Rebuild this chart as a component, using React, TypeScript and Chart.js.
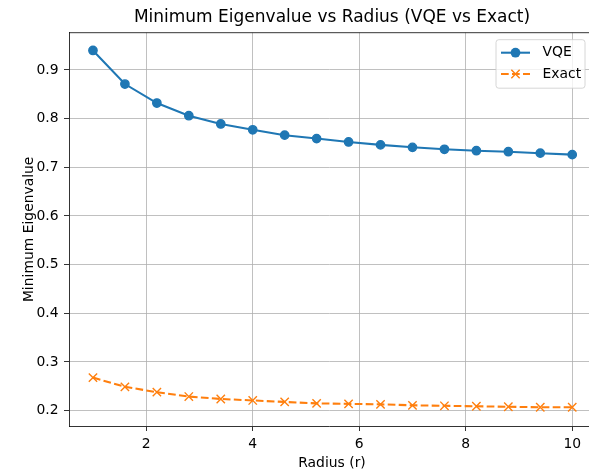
import React, { useEffect, useRef } from 'react';
import { Chart, registerables } from 'chart.js';

Chart.register(...registerables);

const radius = [1.0, 1.6, 2.2, 2.8, 3.4, 4.0, 4.6, 5.2, 5.8, 6.4, 7.0, 7.6, 8.2, 8.8, 9.4, 10.0];
const vqeValues = [0.940, 0.871, 0.832, 0.806, 0.789, 0.777, 0.766, 0.759, 0.752, 0.746, 0.741, 0.737, 0.734, 0.732, 0.729, 0.726];
const exactValues = [0.268, 0.249, 0.238, 0.229, 0.224, 0.221, 0.218, 0.215, 0.214, 0.213, 0.211, 0.210, 0.209, 0.208, 0.207, 0.207];
const xTicks = [2, 4, 6, 8, 10];
const yTicks = [0.2, 0.3, 0.4, 0.5, 0.6, 0.7, 0.8, 0.9];
const titleText = 'Minimum Eigenvalue vs Radius (VQE vs Exact)';
const xLabel = 'Radius (r)';
const yLabel = 'Minimum Eigenvalue';

const FONT = 'DejaVu Sans';
const FS = 13.9;
const BLUE = '#1f77b4';
const ORANGE = '#ff7f0e';

const framePlugin = {
  id: 'mplFrame',
  afterDraw(chart: any) {
    const { ctx, chartArea } = chart;
    ctx.save();
    ctx.strokeStyle = '#000';
    ctx.lineWidth = 0.8;
    ctx.beginPath();
    ctx.moveTo(chartArea.left, chartArea.top);
    ctx.lineTo(chartArea.right, chartArea.top);
    ctx.stroke();

    // title
    ctx.fillStyle = '#000';
    ctx.font = `17px "${FONT}"`;
    ctx.textAlign = 'center';
    ctx.textBaseline = 'alphabetic';
    ctx.fillText(titleText, 332, 21.7);

    // x axis label
    ctx.font = `${FS}px "${FONT}"`;
    ctx.textAlign = 'center';
    ctx.textBaseline = 'middle';
    ctx.fillText(xLabel, 332, 463);

    // legend
    const boxLeft = 496;
    const boxRight = 585;
    const boxTop = chartArea.top + 7;
    const boxBottom = boxTop + 48.5;
    const r = 2.8;
    ctx.beginPath();
    ctx.moveTo(boxLeft + r, boxTop);
    ctx.lineTo(boxRight - r, boxTop);
    ctx.arcTo(boxRight, boxTop, boxRight, boxTop + r, r);
    ctx.lineTo(boxRight, boxBottom - r);
    ctx.arcTo(boxRight, boxBottom, boxRight - r, boxBottom, r);
    ctx.lineTo(boxLeft + r, boxBottom);
    ctx.arcTo(boxLeft, boxBottom, boxLeft, boxBottom - r, r);
    ctx.lineTo(boxLeft, boxTop + r);
    ctx.arcTo(boxLeft, boxTop, boxLeft + r, boxTop, r);
    ctx.closePath();
    ctx.fillStyle = 'rgba(255,255,255,0.8)';
    ctx.fill();
    ctx.strokeStyle = '#cccccc';
    ctx.lineWidth = 0.8;
    ctx.stroke();

    const hx0 = boxLeft + 5;
    const hx1 = hx0 + 29;
    const hmid = (hx0 + hx1) / 2;
    const textX = 542.5;
    const rows = [52.7, 74];
    chart.data.datasets.forEach((ds: any, i: number) => {
      const y = rows[i];
      ctx.save();
      ctx.strokeStyle = ds.borderColor;
      ctx.lineWidth = ds.borderWidth;
      ctx.setLineDash(ds.borderDash || []);
      ctx.beginPath();
      ctx.moveTo(hx0, y);
      ctx.lineTo(hx1, y);
      ctx.stroke();
      ctx.setLineDash([]);
      const rad = ds.pointRadius;
      if (ds.pointStyle === 'circle') {
        ctx.fillStyle = ds.pointBackgroundColor;
        ctx.beginPath();
        ctx.arc(hmid, y, rad + ds.pointBorderWidth / 2, 0, Math.PI * 2);
        ctx.fill();
      } else {
        ctx.strokeStyle = ds.pointBorderColor;
        ctx.lineWidth = ds.pointBorderWidth;
        const d = rad * Math.SQRT1_2;
        ctx.beginPath();
        ctx.moveTo(hmid - d, y - d);
        ctx.lineTo(hmid + d, y + d);
        ctx.moveTo(hmid - d, y + d);
        ctx.lineTo(hmid + d, y - d);
        ctx.stroke();
      }
      ctx.restore();
      ctx.fillStyle = '#000';
      ctx.font = `${FS}px "${FONT}"`;
      ctx.textAlign = 'left';
      ctx.textBaseline = 'middle';
      ctx.fillText(ds.label, textX, y);
    });
    ctx.restore();
  },
};

export default function App() {
  const ref = useRef<HTMLCanvasElement | null>(null);

  useEffect(() => {
    if (!ref.current) return;
    const chart = new Chart(ref.current, {
      type: 'line',
      data: {
        datasets: [
          {
            label: 'VQE',
            data: radius.map((x, i) => ({ x, y: vqeValues[i] })),
            borderColor: BLUE,
            backgroundColor: BLUE,
            borderWidth: 2.08,
            pointStyle: 'circle',
            pointRadius: 4.17,
            pointBackgroundColor: BLUE,
            pointBorderColor: BLUE,
            pointBorderWidth: 1.39,
            tension: 0,
            fill: false,
          },
          {
            label: 'Exact',
            data: radius.map((x, i) => ({ x, y: exactValues[i] })),
            borderColor: ORANGE,
            backgroundColor: ORANGE,
            borderWidth: 2.08,
            borderDash: [7.7, 3.3],
            pointStyle: 'crossRot',
            pointRadius: 5.9,
            pointBackgroundColor: ORANGE,
            pointBorderColor: ORANGE,
            pointBorderWidth: 1.39,
            tension: 0,
            fill: false,
          },
        ],
      },
      options: {
        responsive: false,
        maintainAspectRatio: false,
        animation: false,
        devicePixelRatio: 1,
        events: [],
        layout: { autoPadding: false, padding: { left: 0, right: 0, top: 32.7, bottom: 0 } },
        plugins: {
          legend: { display: false },
          tooltip: { enabled: false },
          title: { display: false },
        },
        scales: {
          x: {
            type: 'linear',
            min: 0.55,
            max: 10.315,
            afterFit: (s: any) => { s.height = 49; s.paddingLeft = 0; s.paddingRight = 0; },
            afterBuildTicks: (s: any) => { s.ticks = xTicks.map((v) => ({ value: v })); },
            ticks: {
              color: '#000',
              font: { family: FONT, size: FS },
              padding: 5,
              maxRotation: 0,
              callback: (v: any) => String(v),
            },
            grid: { color: '#b0b0b0', lineWidth: 0.8, tickColor: '#000', tickLength: 5, tickWidth: 0.8, drawTicks: true },
            border: { display: true, color: '#000', width: 0.8 },
            title: { display: false },
          },
          y: {
            type: 'linear',
            min: 0.1685,
            max: 0.9765,
            afterFit: (s: any) => { s.width = 69; s.paddingTop = 0; s.paddingBottom = 0; },
            afterBuildTicks: (s: any) => { s.ticks = yTicks.map((v) => ({ value: v })); },
            ticks: {
              color: '#000',
              font: { family: FONT, size: FS },
              padding: 5.5,
              callback: (v: any) => Number(v).toFixed(1),
            },
            grid: { color: '#b0b0b0', lineWidth: 0.8, tickColor: '#000', tickLength: 5, tickWidth: 0.8, drawTicks: true },
            border: { display: true, color: '#000', width: 0.8 },
            title: {
              display: true,
              text: yLabel,
              color: '#000',
              font: { family: FONT, size: FS },
              padding: { top: 21, bottom: 0 },
            },
          },
        },
      },
      plugins: [framePlugin],
    } as any);
    return () => chart.destroy();
  }, []);

  return (
    <div style={{ position: 'absolute', left: 0, top: 0, width: 589, height: 475, overflow: 'hidden', background: '#fff' }}>
      <canvas ref={ref} width={589} height={475} style={{ display: 'block', width: 589, height: 475 }} />
    </div>
  );
}
